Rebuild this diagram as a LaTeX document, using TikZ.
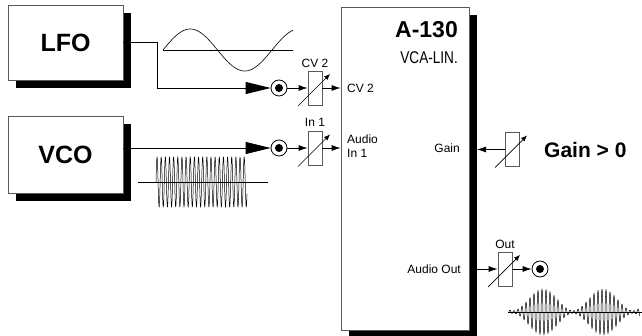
\documentclass[tikz,border=0pt]{standalone}
\usepackage{fontspec}
\setmainfont{Liberation Sans}
\usetikzlibrary{arrows.meta,backgrounds}
\begin{document}
\begin{tikzpicture}[x=1pt,y=-1pt,
  modbox/.style={draw=black!65, fill=white, line width=0.8pt, inner sep=0pt},
  bigtxt/.style={font=\bfseries\fontsize{25}{30}\selectfont},
  smalltxt/.style={font=\fontsize{12}{14}\selectfont, inner sep=0pt},
  potbox/.style={draw=black!65, fill=white, line width=0.8pt, minimum width=14pt, minimum height=34pt, inner sep=0pt},
  jackc/.style={draw=black, line width=0.8pt, circle, minimum size=16pt, inner sep=0pt, fill=white},
  conn/.style={line width=0.8pt, black},
  bigarrow/.style={conn, -{Triangle[length=25pt,width=12pt]}},
  smallarrow/.style={conn, -{Latex[length=9pt,width=6pt]}},
  potarrow/.style={line width=0.7pt, -{Latex[length=6pt,width=5pt]}},
  wave/.style={line width=0.6pt, black}
]
\useasboundingbox (0,0) rectangle (642,336);

% shadows
\fill (16,13) rectangle (131,88);
\fill (16,124) rectangle (131,201);
\fill (349,15) rectangle (477,338);

% modules
\node[modbox, bigtxt, minimum width=115pt, minimum height=75pt] (lfo) at (65.5,42.5) {LFO};
\node[modbox, bigtxt, minimum width=115pt, minimum height=77pt] (vco) at (65.5,154.5) {VCO};
\node[modbox, minimum width=128pt, minimum height=323pt] (main) at (405,168.5) {};
\coordinate (mainshadowE) at (477,168);

% main module texts
\node[anchor=east, inner sep=0pt, font=\bfseries\fontsize{23}{26}\selectfont] (title) at (458,30) {A-130};
\node[anchor=east, inner sep=0pt, font=\fontsize{17}{20}\selectfont, xscale=0.8] (sub) at (458,58) {VCA-LIN.};
\node[smalltxt, anchor=west] (lcv) at (347,88) {CV 2};
\node[smalltxt, anchor=west, align=left] (lin) at (347,146) {Audio\\In 1};
\node[smalltxt, anchor=east] (lgain) at (460,148) {Gain};
\node[smalltxt, anchor=east] (lout) at (461,269) {Audio Out};

% jacks
\node[jackc] (j1) at (279,88) {};
\node[jackc] (j2) at (279,148) {};
\node[jackc] (jo) at (540,269) {};
\foreach \j in {j1,j2,jo} \fill (\j.center) circle (4);

% pots
\node[potbox] (p1) at (315,88) {};
\node[potbox] (p2) at (315,148.5) {};
\node[potbox] (pg) at (512,149.5) {};
\node[potbox] (po) at (505,269) {};
\foreach \p in {p1,p2,pg,po}
  \draw[potarrow] ([shift={(-17,18)}]\p.center) -- ([shift={(15,-14)}]\p.center);
\node[smalltxt] (tcv) at (315,63) {CV 2};
\node[smalltxt] (tin) at (315,122) {In 1};
\node[smalltxt] (tout) at (505,244) {Out};
\node[anchor=west, inner sep=0pt, font=\bfseries\fontsize{21}{24}\selectfont] (tgain) at (544,150) {Gain > 0};

% connectors
\coordinate (lfobend) at (157,42.5);
\draw[bigarrow] (lfo.east) -- (lfobend) |- (j1.west);
\draw[bigarrow] (vco.east |- j2.west) -- (j2.west);
\draw[smallarrow] (j1.east) -- (p1.west);
\draw[smallarrow] (j2.east) -- (j2.east -| p2.west);
\draw[smallarrow] (p1.east) -- (p1.east -| main.west);
\draw[smallarrow] (j2.east -| p2.east) -- (j2.east -| main.west);
\draw[smallarrow] (pg.west) -- (pg.west -| mainshadowE);
\draw[smallarrow] (jo.west -| mainshadowE) -- (jo.west -| po.west);
\draw[smallarrow] (jo.west -| po.east) -- (jo.west);

% waveforms
\draw[wave] (163,50) -- (293,50);
\draw[wave] plot[domain=163:293, samples=200] (\x, {50-21*sin((\x-163)*3.3028)});
\draw[wave] (138,182) -- (268,182);
\draw[wave, line width=0.5pt] plot[domain=156:247, samples=1200] (\x, {182-25*sin((\x-156)*86.747)});
\draw[wave] (508,312) -- (642,312);
\draw[wave, line width=0.5pt] plot[domain=509:640, samples=1500]
  (\x, {312-23*(0.06+0.94*sin((\x-513)*3)*sin((\x-513)*3))*sin((\x-509)*90)});
\end{tikzpicture}
\end{document}
